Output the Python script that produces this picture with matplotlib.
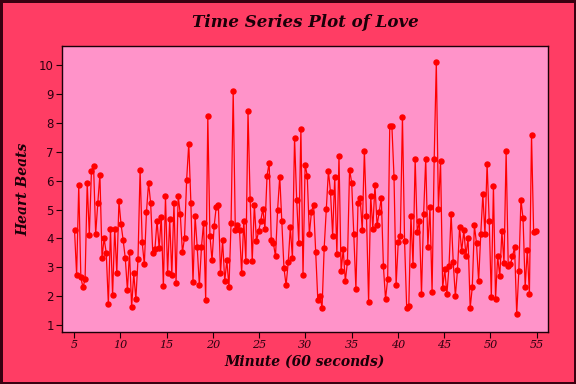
import numpy as np
import matplotlib
matplotlib.use("Agg")
import matplotlib.pyplot as plt

heart_beats = [
    4.29, 2.74, 5.84, 2.65, 2.31, 2.59, 5.93, 4.11, 6.32, 6.52, 4.15, 5.21, 6.21, 3.34, 4.0, 3.5,
    1.72, 4.34, 2.03, 4.34, 2.79, 5.28, 4.49, 3.94, 3.31,
    2.22, 3.52, 1.62, 2.79, 1.9, 3.28, 6.38, 3.86, 3.1, 4.9, 5.93, 5.21, 3.48, 3.62, 4.62, 3.66,
    4.74, 2.34, 5.45, 2.79, 4.66, 2.72, 5.24, 2.45, 5.48, 4.83, 3.52, 4.02, 6.03,
    7.28, 5.24, 2.48, 4.77, 3.69, 2.38, 3.69, 4.55, 1.86, 8.24, 4.1, 3.24, 4.43, 5.1, 5.14, 2.79,
    3.93, 2.52, 3.24, 2.31, 4.55, 9.1, 4.28, 4.45, 4.28,
    2.79, 4.62, 3.22, 8.41, 5.38, 3.22, 5.17, 3.9, 4.24, 4.59, 5.03, 4.34, 6.17, 6.62, 3.93, 3.83,
    3.38, 5.0, 6.14, 4.59, 2.97, 2.38, 3.17, 4.38, 3.31, 7.48, 5.34, 3.83,
    7.8, 2.72, 6.55, 6.17, 4.14, 4.93, 5.17, 3.52, 1.86, 2.0, 1.6, 3.66, 5.03, 6.34, 5.59, 4.1,
    6.14, 3.45, 6.86, 2.86, 3.62, 2.52, 3.2, 6.38, 5.93, 4.14, 2.24, 5.24,
    5.41, 4.28, 7.03, 4.79, 1.79, 5.48, 4.34, 5.86, 4.45, 4.9, 5.41, 3.03, 1.9, 2.59, 7.9, 7.9,
    6.14, 2.38, 3.86, 4.1, 8.21, 3.9, 1.59, 1.67, 4.79, 3.07, 6.76, 4.21,
    4.59, 2.07, 4.83, 6.76, 3.72, 5.07, 2.14, 6.76, 10.1, 5.03, 6.66, 2.28, 2.93, 2.07, 3.03, 4.86,
    3.17, 2.0, 2.9, 4.38, 3.55, 4.28, 3.41, 4.03, 1.59, 2.31, 4.45, 3.83, 2.52,
    4.14, 5.52, 4.14, 6.59, 4.59, 1.97, 5.83, 1.9, 3.38, 2.69, 4.24, 3.14, 7.03, 3.03, 3.1, 3.38,
    3.69, 1.38, 2.86, 5.34, 4.69, 2.31, 3.59, 2.07, 7.59, 4.21, 4.24,
]
start_minute = 5.03
end_minute = 54.9
minutes = np.linspace(start_minute, end_minute, len(heart_beats))

x_ticks = [5, 10, 15, 20, 25, 30, 35, 40, 45, 50, 55]
y_ticks = [1, 2, 3, 4, 5, 6, 7, 8, 9, 10]

outer_bg = "#FF3D64"
inner_bg = "#FF93C9"
line_col = "#FF0000"

fig = plt.figure(figsize=(5.76, 3.84), dpi=100, facecolor=outer_bg)
fig.patch.set_edgecolor("#3a0010")
fig.patch.set_linewidth(2.5)
ax = fig.add_axes([0.108, 0.135, 0.843, 0.745])
ax.set_facecolor(inner_bg)
ax.plot(minutes, heart_beats, color=line_col, lw=0.9, marker="o", ms=3.6,
        mfc=line_col, mec=line_col)

ax.set_xlim(3.7, 56.2)
ax.set_ylim(0.76, 10.65)
ax.set_xticks(x_ticks)
ax.set_yticks(y_ticks)
for s in ax.spines.values():
    s.set_color("#1a0008")
    s.set_linewidth(1.0)
ax.tick_params(direction="out", length=4, width=0.8, colors="#1a0008", pad=2)
for lab in ax.get_yticklabels():
    lab.set_fontfamily("DejaVu Sans")
    lab.set_fontsize(8.5)
    lab.set_color("#2a0010")
for lab in ax.get_xticklabels():
    lab.set_fontfamily("DejaVu Serif")
    lab.set_fontstyle("italic")
    lab.set_fontsize(8)
    lab.set_color("#2a0010")

ax.set_title("Time Series Plot of Love", fontfamily="DejaVu Serif", fontstyle="italic",
             fontweight="bold", fontsize=12, color="#1a0008", pad=14)
ax.set_xlabel("Minute (60 seconds)", fontfamily="DejaVu Serif", fontstyle="italic",
              fontweight="bold", fontsize=10, color="#1a0008")
ax.set_ylabel("Heart Beats", fontfamily="DejaVu Serif", fontstyle="italic",
              fontweight="bold", fontsize=10, color="#1a0008")
ax.yaxis.set_label_coords(-0.066, 0.5)
ax.xaxis.set_label_coords(0.5, -0.077)

fig.savefig("out.png", dpi=100, facecolor=fig.get_facecolor(), edgecolor=fig.get_edgecolor())
